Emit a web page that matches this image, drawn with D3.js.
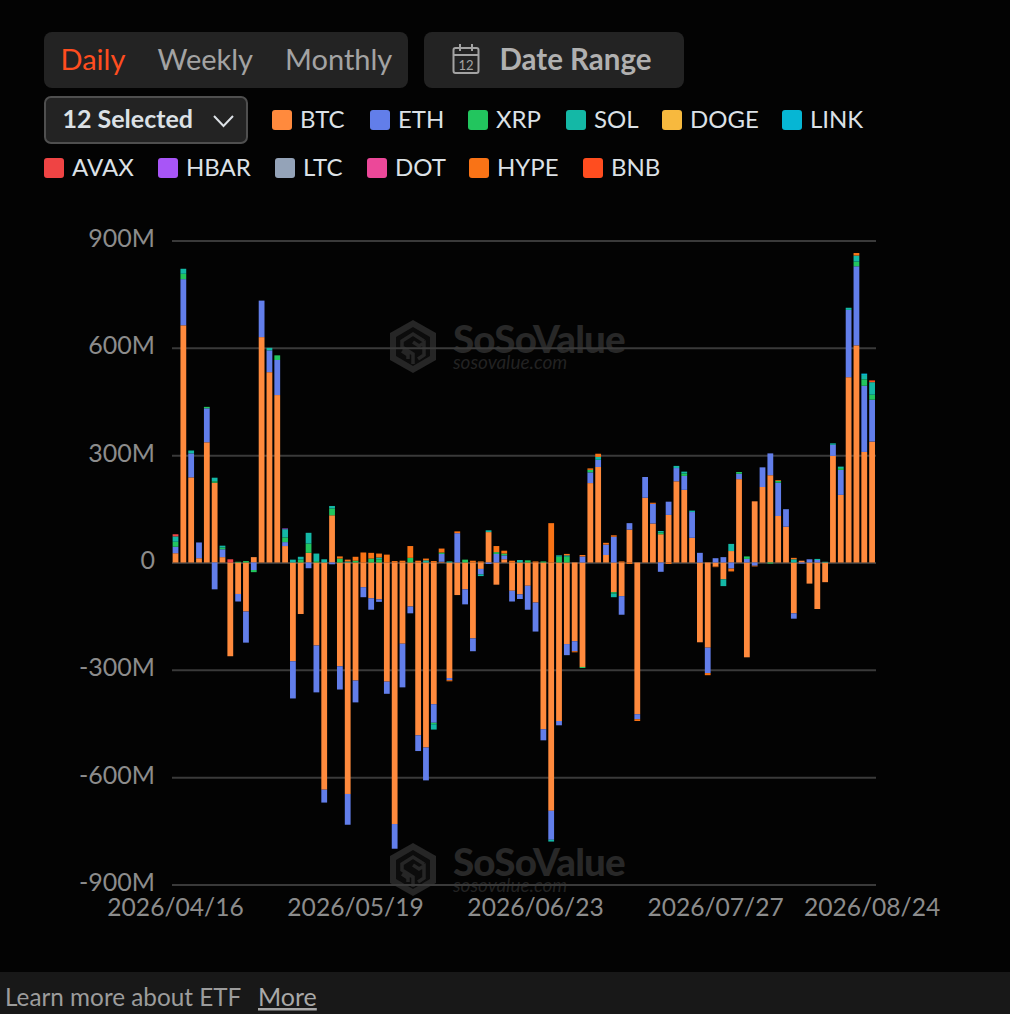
<!DOCTYPE html>
<html>
<head>
<meta charset="utf-8">
<script src="https://cdn.jsdelivr.net/npm/d3@7"></script>
<style>
  html, body { margin: 0; padding: 0; background: #030303; overflow: hidden; }
  text { font-family: Lato, "Open Sans", sans-serif; }
</style>
</head>
<body>
<div id="chart"></div>
<script>
const dates = [
  "2026/04/16","2026/04/17","2026/04/20","2026/04/21","2026/04/22","2026/04/23","2026/04/24","2026/04/27","2026/04/28","2026/04/29",
  "2026/04/30","2026/05/01","2026/05/04","2026/05/05","2026/05/06","2026/05/07","2026/05/08","2026/05/11","2026/05/12","2026/05/13",
  "2026/05/14","2026/05/15","2026/05/18","2026/05/19","2026/05/20","2026/05/21","2026/05/22","2026/05/26","2026/05/27","2026/05/28",
  "2026/05/29","2026/06/01","2026/06/02","2026/06/03","2026/06/04","2026/06/05","2026/06/08","2026/06/09","2026/06/10","2026/06/11",
  "2026/06/12","2026/06/15","2026/06/16","2026/06/17","2026/06/18","2026/06/22","2026/06/23","2026/06/24","2026/06/25","2026/06/26",
  "2026/06/29","2026/06/30","2026/07/01","2026/07/02","2026/07/06","2026/07/07","2026/07/08","2026/07/09","2026/07/10","2026/07/13",
  "2026/07/14","2026/07/15","2026/07/16","2026/07/17","2026/07/20","2026/07/21","2026/07/22","2026/07/23","2026/07/24","2026/07/27",
  "2026/07/28","2026/07/29","2026/07/30","2026/07/31","2026/08/03","2026/08/04","2026/08/05","2026/08/06","2026/08/07","2026/08/10",
  "2026/08/11","2026/08/12","2026/08/13","2026/08/14","2026/08/17","2026/08/18","2026/08/19","2026/08/20","2026/08/21","2026/08/24"
];
const dateTicks = ["2026/04/16","2026/05/19","2026/06/23","2026/07/27","2026/08/24"];
const valueTicks = [900, 600, 300, 0, -300, -600, -900];

// daily net flow in $M
const btc = [
  26,663,238,12,336,223,15,-262,-88,-137,
  15,630,532,468,46,-276,-144,27,-232,-635,
  132,-290,-647,-330,-69,-100,-103,-333,-731,-227,
  -123,-483,-517,-396,2,-323,-91,-75,-212,-18,
  85,-62,9,-79,-89,-65,-112,-466,-694,-443,
  -228,-220,-292,222,267,21,-83,-94,92,-424,
  181,109,79,133,227,203,69,-223,-238,-11,
  -47,32,233,-265,171,211,244,130,100,-142,
  5,-59,-130,-55,298,189,518,607,309,338
];
const eth = [
  18,129,67,44,95,-75,22,0,-21,-87,
  -21,102,61,98,11,-104,0,-16,-131,-36,
  -5,-65,-86,-61,-28,-32,-7,-34,-69,-122,
  -19,-44,-92,-52,22,-6,82,-42,-36,-15,
  -4,24,11,-30,-13,-67,-81,-31,-81,-12,
  -31,-28,17,30,20,29,72,-52,18,-14,
  58,55,-26,37,37,39,72,27,-71,12,
  15,-17,15,10,-9,55,61,93,49,-15,
  -3,9,7,0,31,70,188,221,185,117
];
const xrp = [
  14,15,0,0,4,4,5,0,2,4,
  -6,0,0,13,13,0,8,26,4,0,
  19,11,0,5,0,11,9,0,0,0,
  13,0,0,-4,4,0,0,8,0,0,
  0,5,5,0,0,6,0,3,0,16,
  16,0,-3,7,0,0,-4,0,0,0,
  0,0,5,0,0,7,0,0,0,0,
  0,0,5,7,0,0,-3,5,0,0,
  0,0,0,0,0,5,0,13,18,14
];
const sol = [
  15,14,8,0,0,10,5,0,0,0,
  0,0,7,0,23,8,8,30,21,9,
  7,0,3,0,0,0,5,0,0,0,
  0,0,6,-15,0,3,0,0,0,-5,
  5,0,0,0,7,0,0,0,-5,4,
  4,0,0,0,8,0,-10,0,0,0,
  0,0,4,0,6,5,4,0,0,0,
  -19,20,0,0,0,0,0,0,0,9,
  0,0,3,2,4,4,6,17,12,35
];
const doge = [];
const link = [
  0,0,0,0,0,0,0,0,0,0, 0,0,0,0,0,0,0,0,0,0,
  0,0,0,0,0,0,0,0,0,0, 0,0,0,0,0,0,0,0,0,0,
  0,0,0,0,0,0,0,0,0,0, 0,0,0,0,0,0,0,0,0,0,
  0,0,0,0,0,0,0,0,0,0, 0,0,0,0,0,0,0,0,0,0,
  0,0,0,0,0,0,0,0,4,0
];
const avax = [6,0,0,0,0,0,0,9];
const hbar = [0,0,0,0,0,0,0,0,0,0, 0,0,0,0,2];
const ltc = [];
const dot = [];
const hype = [
  0,0,0,0,0,0,0,0,0,0,
  0,0,0,0,0,0,0,0,0,0,
  0,6,5,11,28,16,11,22,4,5,
  33,5,5,4,11,-3,5,0,5,3,
  0,17,8,5,0,0,3,0,110,0,
  4,-3,4,4,9,5,4,3,-4,-5,
  0,3,0,-4,0,0,0,0,-6,-2,
  0,-8,0,0,-2,0,0,2,0,4,
  0,0,0,0,0,0,0,7,0,0
];
const bnb = [
  0,0,0,0,0,0,0,0,0,0, 0,0,0,0,0,0,0,0,0,0,
  0,0,0,0,0,0,0,0,0,0, 0,0,0,0,0,0,0,0,0,0,
  0,0,0,0,0,0,0,0,0,0, 0,0,0,0,0,0,0,0,0,0,
  0,0,0,0,0,0,0,0,0,0, 0,0,0,0,0,0,0,0,0,0,
  0,0,0,0,0,0,0,0,0,5
];

const coins = ["BTC","ETH","XRP","SOL","DOGE","LINK","AVAX","HBAR","LTC","DOT","HYPE","BNB"];
const seriesValues = [btc, eth, xrp, sol, doge, link, avax, hbar, ltc, dot, hype, bnb];
const coinColors = ["#FF8A3D","#627EEA","#22C55E","#14B8A6","#F7B93E","#06B6D4","#EF4444","#A855F7","#94A3B8","#EC4899","#F97316","#FF4D1F"];

const width = 1010, height = 1014;

const svg = d3.select("#chart").append("svg")
  .attr("width", width)
  .attr("height", height)
  .style("display", "block");

svg.append("rect").attr("width", width).attr("height", height).attr("fill", "#030303");

// top controls
svg.append("rect").attr("x", 44).attr("y", 32).attr("width", 364).attr("height", 56).attr("rx", 8).attr("fill", "#232323");
svg.append("rect").attr("x", 424).attr("y", 32).attr("width", 260).attr("height", 56).attr("rx", 8).attr("fill", "#232323");

const tabs = [["Daily", 60.5, "#FF4D1F"], ["Weekly", 157.5, "#A3A3A3"], ["Monthly", 285, "#A3A3A3"]];
svg.selectAll(".tab")
  .data(tabs)
  .enter()
  .append("text")
  .attr("class", "tab")
  .attr("x", d => d[1])
  .attr("y", 70)
  .attr("font-size", "29px")
  .attr("fill", d => d[2])
  .text(d => d[0]);

// calendar icon
const cal = svg.append("g").attr("fill", "none").attr("stroke", "#A3A3A3").attr("stroke-width", 2);
cal.append("rect").attr("x", 453.5).attr("y", 48).attr("width", 25).attr("height", 25).attr("rx", 2);
cal.append("path").attr("d", "M454 55H478M460 44V51M472 44V51");
svg.append("text").attr("x", 466).attr("y", 70).attr("text-anchor", "middle")
  .attr("font-size", "13px").attr("fill", "#A3A3A3").text("12");

svg.append("text").attr("x", 499.5).attr("y", 70).attr("font-size", "29.5px").attr("font-weight", 700)
  .attr("fill", "#B0B0B0").text("Date Range");

// dropdown
svg.append("rect").attr("x", 45).attr("y", 97).attr("width", 202).attr("height", 46).attr("rx", 6)
  .attr("fill", "#232323").attr("stroke", "#4F4F4F").attr("stroke-width", 2);
svg.append("text").attr("x", 62.5).attr("y", 128).attr("font-size", "25px").attr("font-weight", 700)
  .attr("fill", "#DCE1E6").text("12 Selected");
svg.append("path").attr("d", "M214 116L223.5 126L233 116").attr("fill", "none")
  .attr("stroke", "#DCE1E6").attr("stroke-width", 2);

// legend
const legendX = [272, 370, 468, 566, 662, 782, 44, 158, 275, 367, 469, 583];
const legend = svg.selectAll(".legend")
  .data(coins)
  .enter()
  .append("g")
  .attr("class", "legend")
  .attr("transform", (d, i) => `translate(${legendX[i]},${i < 6 ? 110 : 158})`);
legend.append("rect").attr("width", 20).attr("height", 20).attr("rx", 3)
  .attr("fill", (d, i) => coinColors[i]);
legend.append("text").attr("x", 28).attr("y", 18).attr("font-size", "24px")
  .attr("fill", "#DCE1E6").text(d => d);

// scales
const xScale = d3.scaleBand()
  .domain(dates)
  .range([171.6, 876])
  .paddingInner(0.26)
  .paddingOuter(0.13);

const yScale = d3.scaleLinear()
  .domain([-900, 900])
  .range([884.5, 240.5]);

// watermarks sit behind the grid
function drawWatermark(dy) {
  const g = svg.append("g").attr("transform", `translate(0,${dy})`);
  g.append("path")
    .attr("d", "M413 320L436 333V360L413 373L390 360V333Z")
    .attr("fill", "#262626");
  g.append("path")
    .attr("d", "M413 327L430 337V356L413 366L396 356V337Z")
    .attr("fill", "#0C0C0C");
  g.append("path")
    .attr("d", "M424 341L413 334L402 341V347L413 354V364M413 342L419 346L424 343V355L418 359M402 351L408 355V359")
    .attr("fill", "none")
    .attr("stroke", "#262626")
    .attr("stroke-width", 3.5);
  g.append("text").attr("x", 453).attr("y", 353).attr("font-size", "38.5px").attr("font-weight", 900)
    .attr("letter-spacing", "-0.8px").attr("fill", "#282828").text("SoSoValue");
  g.append("text").attr("x", 453).attr("y", 369).attr("font-size", "19px").attr("font-style", "italic")
    .attr("fill", "#222222").text("sosovalue.com");
}
drawWatermark(0);
drawWatermark(523);

// y axis with gridlines
const yAxis = svg.append("g")
  .attr("transform", "translate(172,0)")
  .call(d3.axisLeft(yScale)
    .tickValues(valueTicks)
    .tickSize(-704)
    .tickPadding(17)
    .tickFormat(d => d === 0 ? "0" : `${d}M`));
yAxis.select(".domain").remove();
yAxis.selectAll("line").attr("stroke", "#3A3A3A").attr("stroke-width", 2);
yAxis.selectAll("text").attr("font-size", "25px").attr("font-family", "Lato").attr("fill", "#8C8C8C")
  .attr("transform", "translate(0,-2)");

// x axis labels
const xAxis = svg.append("g")
  .attr("transform", "translate(0,885)")
  .call(d3.axisBottom(xScale).tickValues(dateTicks).tickSize(0).tickPadding(14));
xAxis.select(".domain").remove();
xAxis.selectAll("text").attr("font-size", "24.6px").attr("font-family", "Lato").attr("fill", "#8C8C8C");

// stacked bars
const rows = dates.map((d, i) => {
  const row = { date: d };
  coins.forEach((c, j) => { row[c] = seriesValues[j][i] || 0; });
  return row;
});

const stacked = d3.stack()
  .keys(coins)
  .offset(d3.stackOffsetDiverging)(rows);

svg.selectAll(".series")
  .data(stacked)
  .enter()
  .append("g")
  .attr("class", "series")
  .attr("fill", (d, i) => coinColors[i])
  .selectAll("rect")
  .data(d => d.filter(p => p[0] !== p[1]))
  .enter()
  .append("rect")
  .attr("x", d => xScale(d.data.date))
  .attr("y", d => yScale(Math.max(d[0], d[1])))
  .attr("width", xScale.bandwidth())
  .attr("height", d => Math.abs(yScale(d[0]) - yScale(d[1])));

// footer
svg.append("rect").attr("x", 0).attr("y", 972).attr("width", width).attr("height", 42).attr("fill", "#181818");
svg.append("text").attr("x", 5).attr("y", 1006).attr("font-size", "24.3px").attr("fill", "#9C9C9C")
  .text("Learn more about ETF");
svg.append("text").attr("x", 258).attr("y", 1006).attr("font-size", "25px").attr("fill", "#A8A8A8")
  .attr("text-decoration", "underline").text("More");
</script>
</body>
</html>
